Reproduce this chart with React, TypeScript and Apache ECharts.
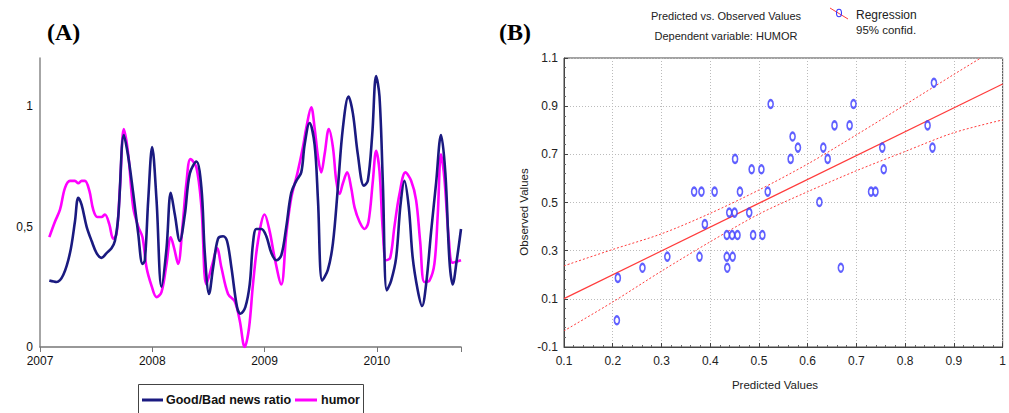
import React, { useEffect, useRef } from "react";
import * as echarts from "echarts";

// Panel A: time series (decimal year, value)
const newsRatio: [number, number][] = [
  [2007.083, 0.276], [2007.148, 0.27], [2007.208, 0.3], [2007.267, 0.39], [2007.311, 0.52], [2007.341, 0.62],
  [2007.371, 0.59], [2007.415, 0.5], [2007.46, 0.44], [2007.504, 0.39], [2007.548, 0.37], [2007.593, 0.39],
  [2007.637, 0.41], [2007.667, 0.44], [2007.697, 0.54], [2007.747, 0.88], [2007.786, 0.79], [2007.83, 0.64],
  [2007.875, 0.47], [2007.913, 0.345], [2007.934, 0.36], [2007.964, 0.61], [2007.999, 0.83], [2008.038, 0.61],
  [2008.082, 0.25], [2008.127, 0.41], [2008.165, 0.64], [2008.201, 0.55], [2008.245, 0.44], [2008.29, 0.55],
  [2008.334, 0.72], [2008.393, 0.77], [2008.438, 0.66], [2008.468, 0.39], [2008.506, 0.22], [2008.542, 0.33],
  [2008.586, 0.45], [2008.631, 0.46], [2008.666, 0.44], [2008.705, 0.33], [2008.755, 0.166], [2008.785, 0.138],
  [2008.829, 0.166], [2008.868, 0.26], [2008.897, 0.43], [2008.927, 0.49], [2008.972, 0.49], [2009.016, 0.46],
  [2009.061, 0.39], [2009.105, 0.36], [2009.149, 0.38], [2009.194, 0.5], [2009.238, 0.64], [2009.283, 0.69],
  [2009.327, 0.725], [2009.357, 0.84], [2009.401, 0.93], [2009.446, 0.84], [2009.476, 0.61], [2009.514, 0.276],
  [2009.564, 0.32], [2009.609, 0.43], [2009.653, 0.66], [2009.698, 0.91], [2009.748, 1.04], [2009.787, 0.97],
  [2009.831, 0.8], [2009.885, 0.67], [2009.92, 0.69], [2009.959, 0.88], [2009.994, 1.125], [2010.024, 1.04],
  [2010.054, 0.68], [2010.089, 0.235], [2010.128, 0.276], [2010.172, 0.37], [2010.211, 0.59], [2010.246, 0.69],
  [2010.285, 0.58], [2010.32, 0.37], [2010.365, 0.235], [2010.403, 0.17], [2010.439, 0.26], [2010.484, 0.48],
  [2010.528, 0.68], [2010.572, 0.88], [2010.611, 0.72], [2010.647, 0.36], [2010.676, 0.26], [2010.712, 0.36],
  [2010.75, 0.49],
];

const humor: [number, number][] = [
  [2007.083, 0.456], [2007.133, 0.52], [2007.178, 0.57], [2007.222, 0.66], [2007.267, 0.69], [2007.311, 0.69],
  [2007.341, 0.68], [2007.371, 0.69], [2007.4, 0.69], [2007.439, 0.65], [2007.474, 0.57], [2007.51, 0.54],
  [2007.548, 0.54], [2007.578, 0.55], [2007.617, 0.51], [2007.652, 0.45], [2007.682, 0.47], [2007.712, 0.66],
  [2007.747, 0.905], [2007.786, 0.8], [2007.83, 0.58], [2007.875, 0.5], [2007.913, 0.456], [2007.949, 0.33],
  [2007.993, 0.255], [2008.038, 0.207], [2008.082, 0.228], [2008.127, 0.345], [2008.165, 0.456], [2008.195, 0.41],
  [2008.23, 0.345], [2008.269, 0.5], [2008.304, 0.68], [2008.34, 0.78], [2008.393, 0.746], [2008.438, 0.58],
  [2008.482, 0.26], [2008.536, 0.345], [2008.577, 0.41], [2008.616, 0.33], [2008.675, 0.22], [2008.734, 0.19],
  [2008.779, 0.11], [2008.823, 0.0], [2008.862, 0.08], [2008.897, 0.26], [2008.942, 0.44], [2009.001, 0.55],
  [2009.046, 0.48], [2009.09, 0.37], [2009.149, 0.26], [2009.194, 0.47], [2009.238, 0.62], [2009.292, 0.72],
  [2009.342, 0.83], [2009.372, 0.91], [2009.416, 0.995], [2009.446, 0.91], [2009.476, 0.79], [2009.505, 0.725],
  [2009.535, 0.8], [2009.573, 0.905], [2009.609, 0.83], [2009.639, 0.69], [2009.668, 0.635], [2009.698, 0.68],
  [2009.736, 0.725], [2009.772, 0.66], [2009.802, 0.58], [2009.846, 0.52], [2009.891, 0.49], [2009.926, 0.52],
  [2009.965, 0.69], [2009.994, 0.815], [2010.024, 0.73], [2010.054, 0.48], [2010.083, 0.36], [2010.119, 0.37],
  [2010.157, 0.5], [2010.202, 0.635], [2010.255, 0.725], [2010.306, 0.69], [2010.35, 0.61], [2010.386, 0.44],
  [2010.424, 0.27], [2010.469, 0.276], [2010.513, 0.345], [2010.543, 0.55], [2010.572, 0.8], [2010.602, 0.7],
  [2010.643, 0.44], [2010.676, 0.35], [2010.75, 0.36],
];

const yearTicks = [2007, 2008, 2009, 2010];
const aTickLabels = [0, 0.5, 1];

// Panel B: predicted vs observed
const predicted = [
  0.2105, 0.2085, 0.261, 0.312, 0.367, 0.382, 0.378, 0.389, 0.409, 0.434, 0.434, 0.435, 0.439, 0.45,
  0.445, 0.456, 0.446, 0.451, 0.461, 0.48, 0.485, 0.488, 0.505, 0.507, 0.518, 0.524, 0.565, 0.569,
  0.58, 0.624, 0.632, 0.641, 0.655, 0.668, 0.686, 0.694, 0.73, 0.739, 0.753, 0.756, 0.846, 0.856, 0.859,
];
const observed = [
  0.187, 0.011, 0.229, 0.275, 0.545, 0.545, 0.275, 0.41, 0.545, 0.365, 0.275, 0.229, 0.458, 0.458,
  0.365, 0.365, 0.275, 0.681, 0.545, 0.458, 0.638, 0.365, 0.638, 0.365, 0.545, 0.909, 0.681, 0.774,
  0.728, 0.502, 0.728, 0.681, 0.82, 0.229, 0.82, 0.909, 0.545, 0.545, 0.728, 0.638, 0.82, 0.728, 0.997,
];
const regression: [number, number][] = [[0.1, 0.101], [1.0, 0.992]];
const upperConf: [number, number][] = [
  [0.1, 0.237], [0.2, 0.305], [0.3, 0.37], [0.4, 0.455], [0.5, 0.552], [0.6, 0.66],
  [0.7, 0.781], [0.8, 0.906], [0.9, 1.032], [0.955, 1.1],
];
const lowerConf: [number, number][] = [
  [0.1, -0.033], [0.2, 0.087], [0.3, 0.215], [0.4, 0.337], [0.5, 0.452], [0.6, 0.545],
  [0.7, 0.632], [0.8, 0.712], [0.9, 0.79], [1.0, 0.843],
];

const NAVY = "#1a1a80";
const MAGENTA = "#ff00ff";
const RED = "#ff3c3c";
const BLUE = "#3838ff";
const SANS = "'Liberation Sans', Arial, sans-serif";
const SERIF = "'Liberation Serif', 'Times New Roman', serif";

export default function App() {
  const ref = useRef<HTMLDivElement>(null);
  useEffect(() => {
    if (!ref.current) return;
    const chart = echarts.init(ref.current, null, { renderer: "svg" });
    const option: any = {
      animation: false,
      backgroundColor: "#ffffff",
      grid: [
        { left: 40, top: 58, width: 421, height: 289 },
        { left: 564, top: 58, width: 440, height: 289, show: true, borderColor: "#444", borderWidth: 1, backgroundColor: "transparent" },
      ],
      xAxis: [
        {
          type: "value", gridIndex: 0, min: 2007, max: 2010.75, interval: 1,
          axisLine: { lineStyle: { color: "#777", width: 1.5 } },
          axisTick: { show: true, length: 5, lineStyle: { color: "#777" } },
          splitLine: { show: false },
          axisLabel: {
            fontFamily: SANS, fontSize: 12, color: "#111", margin: 8,
            formatter: (v: number) => (yearTicks.includes(Math.round(v * 1000) / 1000) ? String(v) : ""),
          },
        },
        {
          type: "value", gridIndex: 1, min: 0.1, max: 1.0, interval: 0.1,
          axisLine: { onZero: false, lineStyle: { color: "#444" } },
          axisTick: { inside: true, length: 4, lineStyle: { color: "#444" } },
          minorTick: { show: true, splitNumber: 5, length: 2, lineStyle: { color: "#666" } },
          splitLine: { show: true, lineStyle: { color: "#bbb", type: [1, 2] } },
          axisLabel: {
            fontFamily: SANS, fontSize: 12, color: "#222", margin: 8,
            formatter: (v: number) => (Math.round(v * 10) / 10).toString(),
          },
        },
      ],
      yAxis: [
        {
          type: "value", gridIndex: 0, min: 0, max: 1.2, interval: 0.5,
          axisLine: { show: true, lineStyle: { color: "#888", width: 1.5 } },
          axisTick: { show: false },
          splitLine: { show: false },
          axisLabel: {
            fontFamily: SANS, fontSize: 12, color: "#111", margin: 7,
            formatter: (v: number) => (aTickLabels.includes(Math.round(v * 100) / 100) ? String(v).replace(".", ",") : ""),
          },
        },
        {
          type: "value", gridIndex: 1, min: -0.1, max: 1.1, interval: 0.2,
          axisLine: { onZero: false, lineStyle: { color: "#444" } },
          axisTick: { inside: true, length: 4, lineStyle: { color: "#444" } },
          minorTick: { show: true, splitNumber: 5, length: 2, lineStyle: { color: "#666" } },
          splitLine: { show: true, lineStyle: { color: "#bbb", type: [1, 2] } },
          axisLabel: {
            fontFamily: SANS, fontSize: 12, color: "#222", margin: 6,
            formatter: (v: number) => (Math.round(v * 10) / 10).toString(),
          },
        },
      ],
      series: [
        {
          type: "line", xAxisIndex: 0, yAxisIndex: 0, data: newsRatio, showSymbol: false, smooth: 0.35,
          lineStyle: { color: NAVY, width: 2.6 }, itemStyle: { color: NAVY }, z: 3,
        },
        {
          type: "line", xAxisIndex: 0, yAxisIndex: 0, data: humor, showSymbol: false, smooth: 0.35,
          lineStyle: { color: MAGENTA, width: 2.6 }, itemStyle: { color: MAGENTA }, z: 2,
        },
        {
          type: "line", xAxisIndex: 1, yAxisIndex: 1, data: regression, showSymbol: false,
          lineStyle: { color: RED, width: 1.2 }, z: 2,
        },
        {
          type: "line", xAxisIndex: 1, yAxisIndex: 1, data: upperConf, showSymbol: false, smooth: 0.3,
          lineStyle: { color: RED, width: 1, type: [2, 2] }, z: 2, clip: true,
        },
        {
          type: "line", xAxisIndex: 1, yAxisIndex: 1, data: lowerConf, showSymbol: false, smooth: 0.3,
          lineStyle: { color: RED, width: 1, type: [2, 2] }, z: 2, clip: true,
        },
        {
          type: "scatter", xAxisIndex: 1, yAxisIndex: 1,
          data: predicted.map((p, i) => [p, observed[i]]),
          symbol: "emptyCircle", symbolSize: [5, 8],
          itemStyle: { color: BLUE, borderColor: BLUE, borderWidth: 1.1 }, z: 4,
        },
      ],
      graphic: [
        { type: "text", left: 47, top: 20, style: { text: "(A)", font: `bold 24px ${SERIF}`, fill: "#000" } },
        { type: "text", left: 499, top: 20, style: { text: "(B)", font: `bold 24px ${SERIF}`, fill: "#000" } },
        // Panel A legend
        { type: "rect", shape: { x: 138.5, y: 384.5, width: 225, height: 40 }, style: { fill: "none", stroke: "#444", lineWidth: 1 } },
        { type: "line", shape: { x1: 142, y1: 400, x2: 163, y2: 400 }, style: { stroke: NAVY, lineWidth: 3 } },
        { type: "text", x: 166, y: 400, style: { text: "Good/Bad news ratio", font: `bold 12.5px ${SANS}`, fill: "#111", verticalAlign: "middle" } },
        { type: "line", shape: { x1: 295, y1: 400, x2: 317, y2: 400 }, style: { stroke: MAGENTA, lineWidth: 3 } },
        { type: "text", x: 321, y: 400, style: { text: "humor", font: `bold 12.5px ${SANS}`, fill: "#111", verticalAlign: "middle" } },
        // Panel B header
        { type: "text", x: 726, y: 16, style: { text: "Predicted vs. Observed Values", font: `11px ${SANS}`, fill: "#222", align: "center", verticalAlign: "middle" } },
        { type: "text", x: 726, y: 36, style: { text: "Dependent variable: HUMOR", font: `11px ${SANS}`, fill: "#222", align: "center", verticalAlign: "middle" } },
        { type: "line", shape: { x1: 830, y1: 8, x2: 848, y2: 19 }, style: { stroke: RED, lineWidth: 1 } },
        { type: "ellipse", shape: { cx: 839, cy: 13, rx: 2.5, ry: 3.8 }, style: { fill: "none", stroke: BLUE, lineWidth: 1.1 } },
        { type: "text", x: 856, y: 15, style: { text: "Regression", font: `12px ${SANS}`, fill: "#222", verticalAlign: "middle" } },
        { type: "text", x: 856, y: 30, style: { text: "95% confid.", font: `11.5px ${SANS}`, fill: "#222", verticalAlign: "middle" } },
        // Panel B axis names
        { type: "text", x: 775, y: 385, style: { text: "Predicted Values", font: `11.5px ${SANS}`, fill: "#222", align: "center", verticalAlign: "middle" } },
        { type: "text", x: 524, y: 212, rotation: Math.PI / 2, style: { text: "Observed Values", font: `11.5px ${SANS}`, fill: "#222", align: "center", verticalAlign: "middle" } },
      ],
    };
    chart.setOption(option);
    return () => chart.dispose();
  }, []);
  return <div ref={ref} style={{ position: "absolute", left: 0, top: 0, width: 1009, height: 413, background: "#fff" }} />;
}
